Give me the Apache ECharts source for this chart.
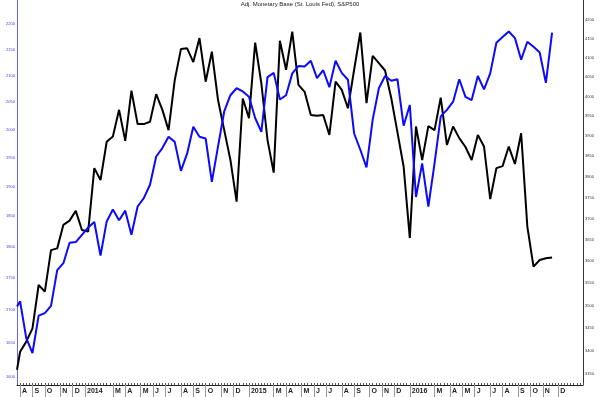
<!DOCTYPE html>
<html>
<head>
<meta charset="utf-8">
<script src="https://cdn.jsdelivr.net/npm/echarts@6/dist/echarts.min.js"></script>
<style>html,body{margin:0;background:#fff}#chart{width:600px;height:397px}</style>
</head>
<body>
<div id="chart"></div>
<script>
// weekly slots (Wednesdays); readings are biweekly, starting on the 2nd slot
var firstWeek = '2013-07-31';
var weekCount = 184;
var firstPointWeek = 1;

// S&P500, left (log) scale
var sp500 = [
  1713, 1657, 1635, 1691, 1695, 1706, 1762, 1773, 1806, 1807,
  1819, 1831, 1840, 1785, 1841, 1861, 1843, 1859, 1819, 1866,
  1880, 1903, 1952, 1967, 1987, 1978, 1927, 1957, 2005, 1987,
  1984, 1908, 1970, 2033, 2063, 2076, 2070, 2060, 2021, 1996,
  2097, 2105, 2055, 2063, 2104, 2118, 2117, 2128, 2095, 2110,
  2078, 2128, 2105, 2092, 1993, 1964, 1933, 2018, 2076, 2099,
  2090, 2093, 2007, 2045, 1882, 1940, 1866, 1940, 2024, 2036,
  2051, 2093, 2060, 2054, 2099, 2074, 2104, 2163, 2174, 2185,
  2172, 2130, 2165, 2155, 2144, 2086, 2183
];
// Adj. monetary base (bn $), right (log) scale
var monBase = [
  3398, 3420, 3449, 3546, 3531, 3626, 3630, 3685, 3695, 3718,
  3673, 3669, 3821, 3792, 3886, 3899, 3966, 3888, 4015, 3930,
  3930, 3936, 4006, 3966, 3915, 4042, 4123, 4125, 4089, 4152,
  4038, 4116, 3991, 3915, 3841, 3740, 3995, 3945, 4140, 4034,
  3890, 3810, 4145, 4069, 4169, 4030, 4012, 3953, 3951, 3953,
  3903, 4038, 4017, 3970, 4069, 4167, 3983, 4105, 4086, 4067,
  3996, 3910, 3825, 3654, 3924, 3841, 3925, 3915, 3997, 3878,
  3924, 3895, 3873, 3841, 3903, 3874, 3746, 3821, 3826, 3874,
  3831, 3907, 3681, 3588, 3603, 3607, 3609
];
// where each line meets the left edge of the plot
var spEdge = 1705;
var mbEdge = 3359;

var spRange = [1588.5, 2248];
var mbRange = [3326.5, 4254.4];
var spTicks = [1600, 1650, 1700, 1750, 1800, 1850, 1900, 1950, 2000, 2050, 2100, 2150, 2200];
var mbTicks = [3350, 3400, 3450, 3500, 3550, 3600, 3650, 3700, 3750, 3800, 3850, 3900, 3950, 4000, 4050, 4100, 4150, 4200];
var monthLetters = ['J', 'F', 'M', 'A', 'M', 'J', 'J', 'A', 'S', 'O', 'N', 'D'];

var weeks = [];
var t0 = Date.parse(firstWeek + 'T00:00:00Z');
for (var i = 0; i < weekCount; i++) {
  weeks.push(new Date(t0 + i * 7 * 864e5).toISOString().slice(0, 10));
}

function monthOf(i) { return +weeks[i].slice(5, 7); }
function isMonthStart(i) { return i > 0 && monthOf(i) !== monthOf(i - 1); }

function slots(vals, edge) {
  var out = [];
  for (var i = 0; i < weekCount; i++) out.push(null);
  out[0] = Math.log10(edge);
  vals.forEach(function (v, k) { out[firstPointWeek + 2 * k] = Math.log10(v); });
  return out;
}

function minorTicks(lo, hi) {
  var out = [];
  for (var v = Math.ceil(lo / 10) * 10; v <= hi; v += 10) out.push(Math.log10(v));
  return out;
}

var log = function (v) { return Math.log10(v); };
var unlog = function (v) { return String(Math.round(Math.pow(10, v))); };

var chart = echarts.init(document.getElementById('chart'));
chart.setOption({
  animation: false,
  textStyle: { fontFamily: 'Liberation Sans, Arial, sans-serif' },
  title: {
    text: 'Adj. Monetary Base (St. Louis Fed), S&P500',
    left: 'center',
    top: 1,
    padding: 0,
    textStyle: { fontSize: 6, fontWeight: 'normal', color: '#222' }
  },
  grid: { left: 17, right: 17, top: 0, bottom: 12, containLabel: false, outerBoundsMode: 'none' },
  xAxis: [
    {
      type: 'category',
      data: weeks,
      boundaryGap: false,
      axisLine: { lineStyle: { color: '#222', width: 1 } },
      axisTick: { interval: 0, inside: true, length: 2, lineStyle: { color: '#555' } },
      axisLabel: {
        interval: function (i) { return isMonthStart(i) && monthOf(i) !== 2 && i < weekCount - 6; },
        formatter: function (v) {
          var m = +v.slice(5, 7);
          return m === 1 ? v.slice(0, 4) : monthLetters[m - 1];
        },
        align: 'left',
        padding: [0, 0, 0, 2],
        margin: 3,
        fontSize: 7,
        fontWeight: 'bold',
        color: '#222'
      },
      splitLine: { show: false }
    },
    {
      // month separators below the axis
      type: 'category',
      data: weeks,
      boundaryGap: false,
      position: 'bottom',
      axisLine: { show: false },
      axisTick: {
        interval: function (i) { return isMonthStart(i) && monthOf(i) !== 2 && i < weekCount - 6; },
        length: 12,
        lineStyle: { color: '#999' }
      },
      axisLabel: { show: false },
      splitLine: { show: false }
    }
  ],
  yAxis: [
    {
      type: 'value',
      position: 'left',
      min: log(spRange[0]),
      max: log(spRange[1]),
      splitLine: { show: false },
      axisLine: { show: true, lineStyle: { color: '#6464ff' } },
      axisTick: { customValues: spTicks.map(log), length: 3, lineStyle: { color: '#6464ff' } },
      axisLabel: { customValues: spTicks.map(log), formatter: unlog, fontSize: 4, color: '#3c3cf5', margin: 2 }
    },
    {
      type: 'value',
      position: 'right',
      min: log(mbRange[0]),
      max: log(mbRange[1]),
      splitLine: { show: false },
      axisLine: { show: true, lineStyle: { color: '#333' } },
      axisTick: { customValues: mbTicks.map(log), length: 3, lineStyle: { color: '#333' } },
      axisLabel: { customValues: mbTicks.map(log), formatter: unlog, fontSize: 4, color: '#333', margin: 2 }
    },
    {
      type: 'value',
      position: 'left',
      min: log(spRange[0]),
      max: log(spRange[1]),
      splitLine: { show: false },
      axisLine: { show: false },
      axisTick: { customValues: minorTicks(spRange[0], spRange[1]), length: 1.5, lineStyle: { color: '#6464ff' } },
      axisLabel: { show: false }
    },
    {
      type: 'value',
      position: 'right',
      min: log(mbRange[0]),
      max: log(mbRange[1]),
      splitLine: { show: false },
      axisLine: { show: false },
      axisTick: { customValues: minorTicks(mbRange[0], mbRange[1]), length: 1.5, lineStyle: { color: '#333' } },
      axisLabel: { show: false }
    }
  ],
  series: [
    {
      name: 'Adj. Monetary Base',
      type: 'line',
      xAxisIndex: 0,
      yAxisIndex: 1,
      data: slots(monBase, mbEdge),
      connectNulls: true,
      showSymbol: false,
      lineStyle: { color: '#000', width: 2 },
      itemStyle: { color: '#000' }
    },
    {
      name: 'S&P500',
      type: 'line',
      xAxisIndex: 0,
      yAxisIndex: 0,
      data: slots(sp500, spEdge),
      connectNulls: true,
      showSymbol: false,
      lineStyle: { color: '#0a0aff', width: 2 },
      itemStyle: { color: '#0a0aff' }
    }
  ]
});
</script>
</body>
</html>
